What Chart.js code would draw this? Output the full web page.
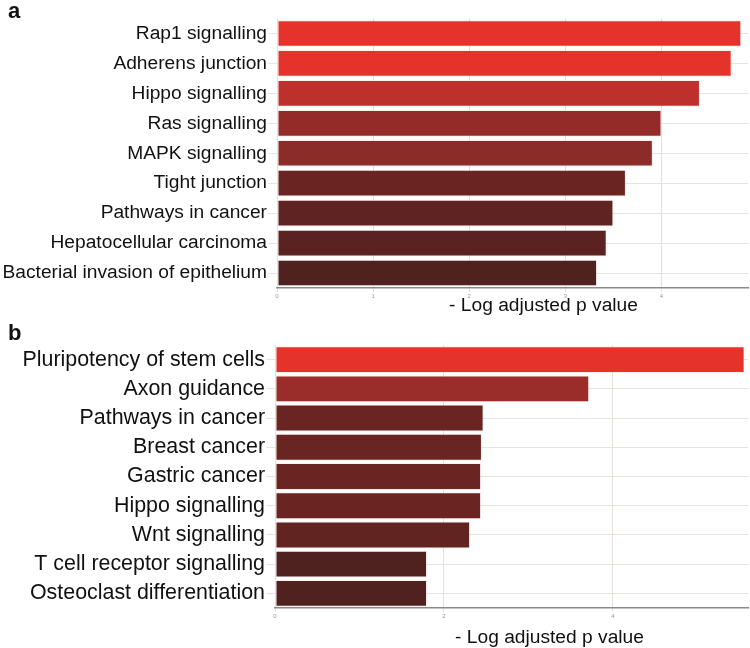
<!DOCTYPE html>
<html lang="en">
  <head>
    <meta charset="UTF-8" />
    <script src="https://cdn.jsdelivr.net/npm/chart.js"></script>
    <title>KEGG pathways</title>
    <style>
      body { margin: 0; background: #fff; width: 750px; height: 648px; position: relative; overflow: hidden; }
      .panel { position: absolute; left: 0; width: 750px; }
      .tag { position: absolute; left: 8px; font: bold 22px "Liberation Sans", Arial, sans-serif; color: #111; }
    </style>
  </head>
  <body>
    <div class="panel" style="top:0;height:325px"><canvas id="chartA"></canvas></div>
    <div class="panel" style="top:325px;height:323px"><canvas id="chartB"></canvas></div>
    <div class="tag" style="top:-2px">a</div>
    <div class="tag" style="top:320px">b</div>
  <script>
    // data
    const pathwaysA = ["Rap1 signalling", "Adherens junction", "Hippo signalling", "Ras signalling",
      "MAPK signalling", "Tight junction", "Pathways in cancer", "Hepatocellular carcinoma",
      "Bacterial invasion of epithelium"];
    const scoresA = [4.83, 4.73, 4.40, 4.00, 3.91, 3.63, 3.50, 3.43, 3.33];

    const pathwaysB = ["Pluripotency of stem cells", "Axon guidance", "Pathways in cancer", "Breast cancer",
      "Gastric cancer", "Hippo signalling", "Wnt signalling", "T cell receptor signalling",
      "Osteoclast differentiation"];
    const scoresB = [5.56, 3.72, 2.47, 2.45, 2.44, 2.44, 2.31, 1.80, 1.80];

    const colorsA = ["#e5332b", "#e5332b", "#be302b", "#952b29", "#8b2c28", "#6a2523", "#5f2321", "#5a2220", "#4f2220"];
    const colorsB = ["#e5332b", "#9a2d29", "#6a2523", "#6a2523", "#6a2523", "#6a2523", "#622421", "#4f2220", "#4f2220"];

    const axisTitle = "- Log adjusted p value";
    const FONT = '"Liberation Sans", Arial, sans-serif';

    // axis title drawn a bit right of centre, like the original figure
    const titlePlugin = {
      id: "xtitle",
      afterDraw(chart, args, opts) {
        const s = chart.scales.x;
        const ctx = chart.ctx;
        ctx.save();
        ctx.font = "19.2px " + FONT;
        ctx.fillStyle = "#111";
        ctx.textAlign = "center";
        ctx.textBaseline = "middle";
        ctx.fillText(axisTitle, (s.left + s.right) / 2 + opts.dx, s.top + opts.dy);
        ctx.restore();
      }
    };

    function makeChart(id, labels, values, colors, cfg) {
      return new Chart(document.getElementById(id), {
        type: "bar",
        data: {
          labels: labels,
          datasets: [{
            data: values,
            backgroundColor: colors,
            borderColor: "rgba(255,215,215,0.45)",
            borderWidth: 1,
            borderSkipped: false,
            barPercentage: cfg.barPct,
            categoryPercentage: 1
          }]
        },
        options: {
          indexAxis: "y",
          responsive: true,
          maintainAspectRatio: false,
          animation: false,
          layout: { padding: { top: cfg.top, right: 2, left: 0, bottom: 0 } },
          plugins: {
            legend: { display: false },
            tooltip: { enabled: false },
            xtitle: { dx: cfg.dx, dy: cfg.dy }
          },
          scales: {
            x: {
              min: 0,
              max: cfg.max,
              ticks: { stepSize: cfg.step, font: { size: 6, family: FONT }, color: "#999", padding: 1 },
              grid: { color: "#e4dfdb", lineWidth: 1, tickLength: 4 },
              border: { color: "#8a8a8a", width: 1.5 },
              afterBuildTicks: s => { s.ticks = s.ticks.filter(t => Number.isInteger(t.value)); },
              afterFit: s => { s.height = cfg.xh; }
            },
            y: {
              ticks: { font: { size: cfg.labelSize, family: FONT }, color: "#111", padding: 1 },
              grid: { color: "#e6e3e1", lineWidth: 1, tickLength: 9, offset: false },
              border: { display: false },
              afterFit: s => { s.width = cfg.left; }
            }
          }
        },
        plugins: [titlePlugin]
      });
    }

    makeChart("chartA", pathwaysA, scoresA, colorsA,
      { max: 4.9, step: 1, left: 277, top: 18.5, xh: 37, barPct: 0.89, dx: 31, dy: 17.5, labelSize: 19.2 });
    makeChart("chartB", pathwaysB, scoresB, colorsB,
      { max: 5.6, step: 2, left: 275, top: 20, xh: 40, barPct: 0.92, dx: 38, dy: 30, labelSize: 21.4 });
  </script>
  </body>
</html>
